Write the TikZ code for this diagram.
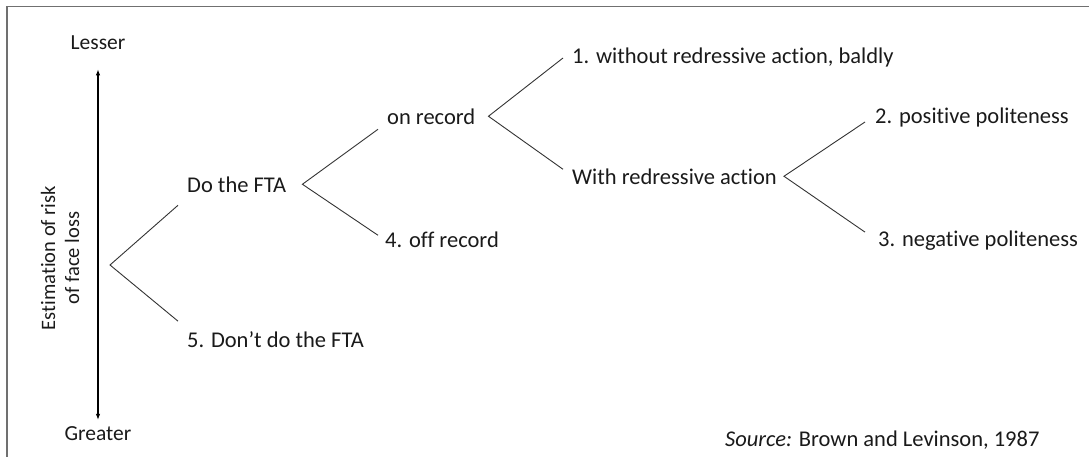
\documentclass[tikz,border=0pt]{standalone}
\usepackage{fontspec}
\setmainfont{Carlito}[Ligatures=NoCommon]
\usetikzlibrary{calc,arrows.meta}
\definecolor{ink}{HTML}{1A1A1A}
\definecolor{branch}{HTML}{333333}
\definecolor{frame}{HTML}{707070}
\tikzset{
  lbl/.style={inner sep=0pt, anchor=base west, text=ink, font=\fontsize{22.5}{27}\selectfont},
  endlbl/.style={inner sep=0pt, anchor=base, text=ink, font=\fontsize{21.5}{26}\selectfont},
  twig/.style={draw=branch, line width=0.9pt},
  riskaxis/.style={draw=black, line width=1.1pt, {Latex[length=6pt,width=4.5pt]}-{Latex[length=6pt,width=4.5pt]}}
}
\begin{document}
\begin{tikzpicture}[x=1pt,y=-1pt]
  \useasboundingbox (0,0) rectangle (1089,457);
  % frame on the top and left edges
  \draw[frame, line width=1.4pt] (7,457) -- (7,6.5) -- (1089,6.5);

  % risk scale
  \node[endlbl] (lesser) at (98,50) {Lesser};
  \node[endlbl] (greater) at (98,440) {Greater};
  \draw[riskaxis] ($(lesser.south)+(0,19)$) -- ($(greater.north)+(0,-6)$);
  \node[inner sep=0pt, text=ink, rotate=90, align=center,
        font=\fontsize{20.5}{24}\selectfont] (risk) at (60,258)
        {Estimation of risk\\of face loss};

  % strategy labels
  \node[lbl] (do)     at (187,193) {Do the FTA};
  \node[lbl] (dont)   at (187,347) {5. Don’t do the FTA};
  \node[lbl] (on)     at (387,125) {on record};
  \node[lbl] (off)    at (385,247) {4. off record};
  \node[lbl] (bald)   at (572,64)  {1. without redressive action, baldly};
  \node[lbl] (redr)   at (572,185) {With redressive action};
  \node[lbl] (pos)    at (875,124) {2. positive politeness};
  \node[lbl] (neg)    at (878,246) {3. negative politeness};
  \node[lbl] (source) at (725,446) {\textit{Source:} Brown and Levinson, 1987};

  % branching points
  \coordinate (root) at (110,265);
  \coordinate (vdo)  at ($(do.east)+(16,-1)$);
  \coordinate (von)  at ($(on.east)+(13,-1)$);
  \coordinate (vred) at ($(redr.east)+(7,-1)$);

  % branches
  \draw[twig] ($(do.west)+(-9,20)$) -- (root) -- ($(dont.west)+(-9,-18)$);
  \draw[twig] ($(on.west)+(-9,12)$) -- (vdo) -- ($(off.west)+(-7,-4)$);
  \draw[twig] ($(bald.west)+(-9,0)$) -- (von) -- ($(redr.west)+(-9,-8)$);
  \draw[twig] ($(pos.west)+(-10,4)$) -- (vred) -- ($(neg.west)+(-13,-8)$);
\end{tikzpicture}
\end{document}
